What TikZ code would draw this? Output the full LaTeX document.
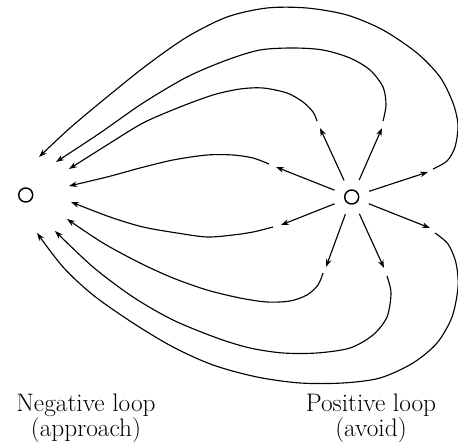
\documentclass[tikz,border=0pt]{standalone}
\usepackage{tikz}
\usetikzlibrary{arrows.meta,positioning}

\begin{document}
\begin{tikzpicture}[
x=0.75pt,y=-0.75pt,
loop/.style={draw,circle,line width=1.1pt,minimum size=10.5pt,inner sep=0pt},
ray/.style={-{Stealth[length=6pt,width=4.2pt]},line width=0.85pt,shorten <=8pt},
field/.style={-{Stealth[length=6pt,width=4.2pt]},line width=0.85pt},
caption/.style={align=center,font=\fontsize{19}{16.5}\selectfont,anchor=base}
]
\useasboundingbox (0,0) rectangle (458,442);
\node[loop] (neg) at (25.7,195) {};
\node[loop] (pos) at (351.7,197) {};
% arrow tips round the positive loop
\coordinate (t1) at (320,128);
\coordinate (t2) at (382,128);
\coordinate (t3) at (276,167);
\coordinate (t4) at (428,172);
\coordinate (t5) at (281,225);
\coordinate (t6) at (430,228);
\coordinate (t7) at (326,267);
\coordinate (t8) at (384,268);
\draw[ray] (pos) -- (t1);
\draw[ray] (pos) -- (t2);
\draw[ray] (pos) -- (t3);
\draw[ray] (pos) -- (t4);
\draw[ray] (pos) -- (t5);
\draw[ray] (pos) -- (t6);
\draw[ray] (pos) -- (t7);
\draw[ray] (pos) -- (t8);
% arrow tips round the negative loop
\coordinate (n1) at (39,157);
\coordinate (n2) at (56,162);
\coordinate (n3) at (69,169);
\coordinate (n4) at (69,186);
\coordinate (n5) at (71,202);
\coordinate (n6) at (67,219);
\coordinate (n7) at (55,231);
\coordinate (n8) at (37,233);
% upper field lines
\draw[field] plot[smooth] coordinates {(269,164) (253,158) (233,155) (207,155) (173,160) (140,168) (107,177) (n4)};
\draw[field] plot[smooth] coordinates {(317,121) (313,112) (303,102) (287,93) (263,88) (240,89) (213,95) (180,107) (143,123) (107,145) (n3)};
\draw[field] plot[smooth] coordinates {(383,121) (386,105) (383,87) (370,70) (350,58) (323,50) (293,48) (260,50) (227,60) (187,77) (143,103) (100,133) (n2)};
\draw[field] plot[smooth] coordinates {(433,169) (447,161) (455,147) (458,125) (453,103) (440,77) (417,53) (383,30) (347,15) (307,8) (267,8) (227,17) (187,37) (147,65) (107,97) (70,128) (n1)};
% lower field lines
\draw[field] plot[smooth] coordinates {(273,227) (253,232) (233,235) (207,237) (177,233) (143,227) (110,217) (n5)};
\draw[field] plot[smooth] coordinates {(323,273) (318,285) (307,295) (290,301) (267,302) (240,298) (207,290) (173,278) (140,263) (103,243) (n6)};
\draw[field] plot[smooth] coordinates {(387,276) (391,293) (387,317) (373,335) (350,348) (317,353) (283,353) (250,348) (217,338) (173,320) (133,297) (93,267) (n7)};
\draw[field] plot[smooth] coordinates {(435,233) (448,244) (456,263) (458,287) (452,317) (437,343) (413,363) (380,378) (343,383) (300,383) (257,377) (213,365) (173,347) (133,323) (93,295) (63,267) (n8)};
% captions
\node[caption] (neglabel) at (86,437) {Negative loop\\(approach)};
\node[caption] (poslabel) at (371,437) {Positive loop\\(avoid)};
\end{tikzpicture}
\end{document}
